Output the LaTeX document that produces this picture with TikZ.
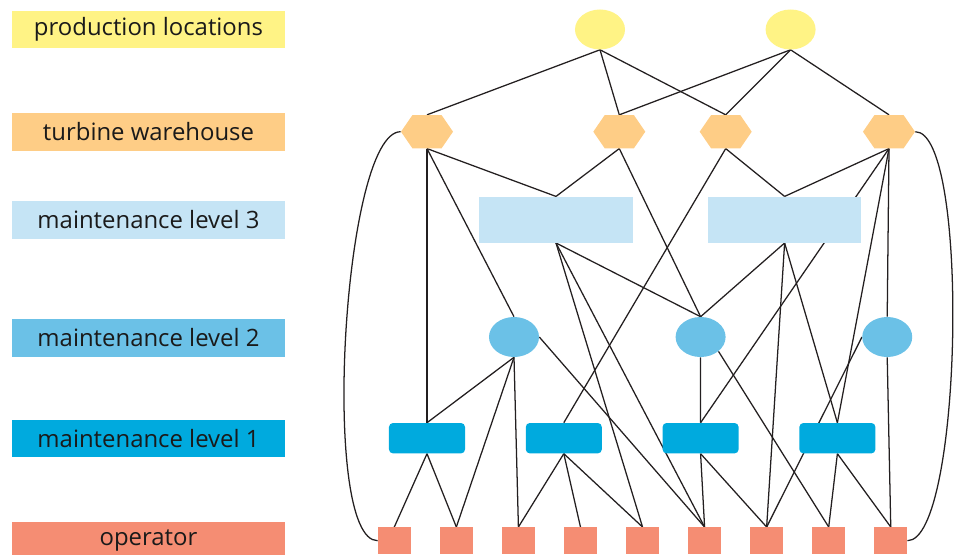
\documentclass[tikz,border=0pt]{standalone}
\usepackage{fontspec}
\setmainfont{Open Sans}
\usepackage{xcolor}
\usepackage{tikz}
\usetikzlibrary{positioning,shapes.geometric,shapes.symbols,backgrounds}
\definecolor{tieryellow}{HTML}{FFF385}
\definecolor{tierorange}{HTML}{FECD86}
\definecolor{tierpale}{HTML}{C5E4F5}
\definecolor{tiermid}{HTML}{6BC1E7}
\definecolor{tierdeep}{HTML}{00AADE}
\definecolor{tiersalmon}{HTML}{F58D73}
\definecolor{tierline}{HTML}{231F20}
\definecolor{tiertext}{HTML}{1A1A1A}
\tikzset{
  tierlabel/.style={
    rectangle,
    inner sep=0pt,
    minimum width=6.825cm,
    minimum height=0.94cm,
    text=tiertext,
    font=\fontsize{17}{20}\selectfont
  },
  plantsite/.style={ellipse, fill=tieryellow, inner sep=0pt, minimum width=1.25cm, minimum height=1cm},
  storesite/.style={signal, signal to=east and west, signal pointer angle=111, fill=tierorange,
    inner sep=0pt, minimum width=1.3cm, minimum height=0.83cm},
  mthreesite/.style={rectangle, fill=tierpale, inner sep=0pt, minimum width=3.84cm, minimum height=1.15cm},
  mtwosite/.style={ellipse, fill=tiermid, inner sep=0pt, minimum width=1.25cm, minimum height=1cm},
  monesite/.style={rectangle, rounded corners=0.1cm, fill=tierdeep, inner sep=0pt, minimum width=1.9cm, minimum height=0.76cm},
  opsite/.style={rectangle, fill=tiersalmon, inner sep=0pt, minimum width=0.82cm, minimum height=0.67cm},
  tierlink/.style={draw=tierline, line width=0.9pt}
}

\begin{document}
\begin{tikzpicture}[x=0.025cm, y=-0.025cm]
\useasboundingbox (0,0) rectangle (956,554);
\clip (0,0) rectangle (956,554);
% level labels on the left
\node[tierlabel, fill=tieryellow] (lplant) at (148.5,29.5) {production locations};
\node[tierlabel, fill=tierorange] (lstore) at (148.5,131.7) {turbine warehouse};
\node[tierlabel, fill=tierpale] (lthree) at (148.5,219.7) {maintenance level 3};
\node[tierlabel, fill=tiermid] (ltwo) at (148.5,337.7) {maintenance level 2};
\node[tierlabel, fill=tierdeep] (lone) at (148.5,438.5) {maintenance level 1};
\node[tierlabel, fill=tiersalmon] (lop) at (148.5,540.7) {operator};
% network
\node[plantsite] (plant1) at (600,29.5) {};
\node[plantsite, right=3.5cm of plant1] (plant2) {};
\node[storesite] (store1) at (427,131.7) {};
\node[storesite] (store2) at (619.3,131.7) {};
\node[storesite] (store3) at (725.7,131.7) {};
\node[storesite] (store4) at (889,131.7) {};
\node[mthreesite] (mthree1) at (556,219.7) {};
\node[mthreesite, right=1.86cm of mthree1] (mthree2) {};
\node[mtwosite] (mtwo1) at (514,337) {};
\node[mtwosite, right=3.4cm of mtwo1] (mtwo2) {};
\node[mtwosite, right=3.4cm of mtwo2] (mtwo3) {};
\node[monesite] (mone1) at (427,438.2) {};
\node[monesite, right=1.505cm of mone1] (mone2) {};
\node[monesite, right=1.505cm of mone2] (mone3) {};
\node[monesite, right=1.505cm of mone3] (mone4) {};
\node[opsite] (op1) at (394.3,540.7) {};
\node[opsite, right=0.717cm of op1] (op2) {};
\node[opsite, right=0.717cm of op2] (op3) {};
\node[opsite, right=0.717cm of op3] (op4) {};
\node[opsite, right=0.717cm of op4] (op5) {};
\node[opsite, right=0.717cm of op5] (op6) {};
\node[opsite, right=0.717cm of op6] (op7) {};
\node[opsite, right=0.717cm of op7] (op8) {};
\node[opsite, right=0.717cm of op8] (op9) {};
\begin{scope}[on background layer]
\draw[tierlink] (plant1.south) -- (store1.north);
\draw[tierlink] (plant1.south) -- (store2.north);
\draw[tierlink] (plant1.south) -- (store3.north);
\draw[tierlink] (plant2.south) -- (store2.north);
\draw[tierlink] (plant2.south) -- (store3.north);
\draw[tierlink] (plant2.south) -- (store4.north);
\draw[tierlink] (store1.south) -- (mthree1.north);
\draw[tierlink] (store1.south) -- (mtwo1.north);
\draw[tierlink] (store1.south) -- (mone1.north);
\draw[tierlink] (store2.south) -- (mthree1.north);
\draw[tierlink] (store2.south) -- (mtwo2.north);
\draw[tierlink] (store3.south) -- (mone2.north);
\draw[tierlink] (store3.south) -- (mthree2.north);
\draw[tierlink] (store4.south) -- (mthree2.north);
\draw[tierlink] (store4.south) -- (mone3.north);
\draw[tierlink] (store4.south) -- (mone4.north);
\draw[tierlink] (store4.south) -- (mtwo3.north);
\draw[tierlink] (mthree1.south) -- (mtwo2.north);
\draw[tierlink] (mthree1.south) -- (op5.north);
\draw[tierlink] (mthree1.south) -- (op6.north);
\draw[tierlink] (mthree2.south) -- (mtwo2.north);
\draw[tierlink] (mthree2.south) -- (op7.north);
\draw[tierlink] (mthree2.south) -- (mone4.north);
\draw[tierlink] (mtwo1.south) -- (mone1.north);
\draw[tierlink] (mtwo1.south) -- (op2.north);
\draw[tierlink] (mtwo1.south) -- (op3.north);
\draw[tierlink] (mtwo1.east) -- (op6.north);
\draw[tierlink] (mtwo2.south) -- (mone3.north);
\draw[tierlink] (mtwo2.south east) -- (op8.north);
\draw[tierlink] (mtwo3.south) -- (op9.north);
\draw[tierlink] (mtwo3.west) -- (op7.north);
\draw[tierlink] (mone1.south) -- (op1.north);
\draw[tierlink] (mone1.south) -- (op2.north);
\draw[tierlink] (mone2.south) -- (op3.north);
\draw[tierlink] (mone2.south) -- (op4.north);
\draw[tierlink] (mone2.south) -- (op5.north);
\draw[tierlink] (mone3.south) -- (op6.north);
\draw[tierlink] (mone3.south) -- (op7.north);
\draw[tierlink] (mone4.south) -- (op8.north);
\draw[tierlink] (mone4.south) -- (op9.north);
% outer bypass curves
\draw[tierlink] (store1.west) .. controls +(-58,0) and +(-58,0) .. (op1.west);
\draw[tierlink] (store4.east) .. controls +(55,0) and +(55,0) .. (op9.east);
\end{scope}
\end{tikzpicture}
\end{document}
